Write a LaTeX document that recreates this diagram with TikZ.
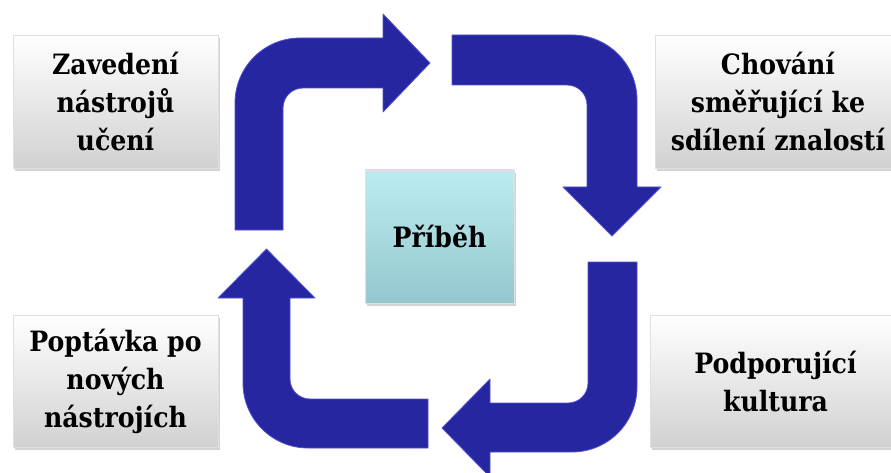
\documentclass[tikz,border=0pt]{standalone}
\usepackage{fontspec}
\newfontfamily\boxfont{DejaVu Serif Condensed}
\usetikzlibrary{shadows}

\definecolor{arrowblue}{RGB}{38,38,160}
\definecolor{arrowedge}{RGB}{82,82,210}
\definecolor{coretop}{RGB}{188,236,241}
\definecolor{corebottom}{RGB}{148,200,206}

\begin{document}
\begin{tikzpicture}[x=1pt,y=1pt]
        \tikzstyle{box}=[draw=black!12, top color=white, bottom color=black!18,
            drop shadow={shadow xshift=2pt,shadow yshift=-3pt,opacity=0.35},
            align=center, inner sep=0pt,
            font=\boxfont\fontsize{28}{38}\selectfont\bfseries]
        \tikzstyle{core}=[box, top color=coretop, bottom color=corebottom]
        \tikzstyle{turn}=[fill=arrowblue, draw=arrowedge, line width=0.8pt, line join=round]

        \useasboundingbox (0,0) rectangle (891,-473);
        \clip (0,0) rectangle (891,-473);

        \node[core, minimum width=149pt, minimum height=133pt] (pribeh)   at (439.5,-236.5) {Příběh};

        \node[box,  minimum width=205pt, minimum height=133pt] (zavedeni) at (115.5,-101.5) {Zavedení\\nástrojů\\učení};
        \node[box,  minimum width=246pt, minimum height=133pt] (chovani)  at (778,-101.5)   {Chování\\směřující ke\\sdílení znalostí};
        \node[box,  minimum width=251pt, minimum height=132pt] (kultura)  at (775.5,-381)   {Podporující\\kultura};
        \node[box,  minimum width=205pt, minimum height=132pt] (poptavka) at (115.5,-381)   {Poptávka po\\nových\\nástrojích};

        % up and right
        \draw[turn] (235,-230) -- (235,-103) arc[start angle=180, end angle=90, radius=65]
            -- (383,-38) -- (383,-14) -- (430,-63) -- (383,-112) -- (383,-88)
            -- (303,-88) arc[start angle=90, end angle=180, radius=20] -- (283,-230) -- cycle;

        % right and down
        \draw[turn] (452,-35) -- (572,-35) arc[start angle=90, end angle=0, radius=65]
            -- (637,-187) -- (661,-187) -- (612,-236) -- (563,-187) -- (587,-187)
            -- (587,-105) arc[start angle=0, end angle=90, radius=20] -- (452,-85) -- cycle;

        % down and left
        \draw[turn] (588,-262) -- (637,-262) -- (637,-387) arc[start angle=0, end angle=-90, radius=65]
            -- (490,-452) -- (490,-477) -- (442,-428) -- (490,-379) -- (490,-403)
            -- (568,-403) arc[start angle=-90, end angle=0, radius=20] -- cycle;

        % left and up
        \draw[turn] (428,-448) -- (308,-448) arc[start angle=270, end angle=180, radius=65]
            -- (243,-298) -- (218,-298) -- (266.5,-249) -- (315,-298) -- (290,-298)
            -- (290,-379) arc[start angle=180, end angle=270, radius=20] -- (428,-399) -- cycle;
    \end{tikzpicture}
\end{document}
